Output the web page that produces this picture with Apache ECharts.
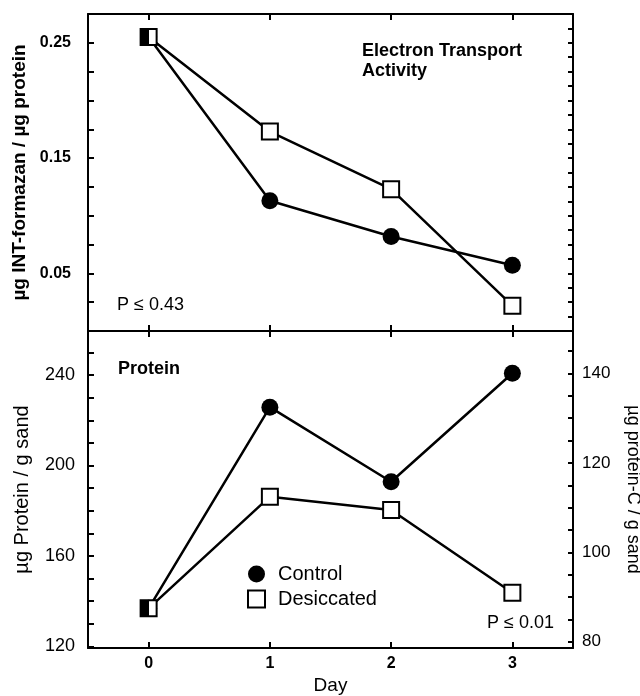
<!DOCTYPE html>
<html>
<head>
<meta charset="utf-8">
<script src="https://cdn.jsdelivr.net/npm/echarts@6/dist/echarts.min.js"></script>
<style>
  html, body { margin: 0; padding: 0; background: #fff; }
  #chart { width: 640px; height: 696px; }
</style>
</head>
<body>
<div id="chart"></div>
<script>
// values
var days = [0, 1, 2, 3];
var etsControl = [0.255, 0.113, 0.082, 0.057];
var etsDesiccated = [0.255, 0.173, 0.123, 0.022];
var proteinControl = [136.8, 225.8, 192.8, 240.8];
var proteinDesiccated = [136.8, 186.2, 180.3, 143.7];

// ticks and labels
var dayTicks = [0, 1, 2, 3];
var etsLabels = [0.05, 0.15, 0.25];
var proteinTicks = [120, 130, 140, 150, 160, 170, 180, 190, 200, 210, 220, 230, 240, 250];
var proteinLabels = [120, 160, 200, 240];
var carbonTicks = [80, 85, 90, 95, 100, 105, 110, 115, 120, 125, 130, 135, 140, 145];
var carbonLabels = [80, 100, 120, 140];

var FONT = 'Liberation Sans, Arial, sans-serif';
var black = '#000';

function pairs(vals) {
    return days.map(function (d, i) { return [d, vals[i]]; });
}

// desiccated day 0 point overlaps control: drawn half filled
function halfFilled(data) {
    data[0] = {
        value: data[0],
        itemStyle: {
            color: {
                type: 'linear', x: 0, y: 0, x2: 1, y2: 0,
                colorStops: [
                    { offset: 0, color: '#000' },
                    { offset: 0.5, color: '#000' },
                    { offset: 0.5, color: '#fff' },
                    { offset: 1, color: '#fff' }
                ]
            }
        }
    };
    return data;
}

var tick = { inside: true, length: 6, lineStyle: { color: black, width: 2 } };
var line = { show: true, onZero: false, lineStyle: { color: black, width: 2 } };

function xAxis(grid, pos, labels, name) {
    return {
        type: 'value', gridIndex: grid, position: pos, min: -0.5, max: 3.5,
        axisLine: line,
        axisTick: { inside: true, length: 6, lineStyle: { color: black, width: 2 }, customValues: dayTicks },
        axisLabel: labels ? { customValues: dayTicks, color: black, fontFamily: FONT, fontSize: 16, fontWeight: 'bold', margin: 8 } : { show: false },
        splitLine: { show: false },
        name: name || '',
        nameLocation: 'middle', nameGap: 28,
        nameTextStyle: { color: black, fontFamily: FONT, fontSize: 19 }
    };
}

var controlStyle = {
    symbol: 'circle', symbolSize: 17,
    itemStyle: { color: black },
    lineStyle: { color: black, width: 2.5 }
};
var desStyle = {
    symbol: 'rect', symbolSize: 16,
    itemStyle: { color: '#fff', borderColor: black, borderWidth: 2 },
    lineStyle: { color: black, width: 2.5 }
};

function series(name, grid, vals, style, z, half) {
    var data = pairs(vals);
    if (half) data = halfFilled(data);
    return Object.assign({
        name: name, type: 'line', xAxisIndex: grid * 2, yAxisIndex: grid * 2,
        data: data, z: z, animation: false
    }, style);
}

var option = {
    animation: false,
    grid: [
        { left: 88, top: 14, right: 67, height: 317, outerBoundsMode: 'none' },
        { left: 88, top: 331, right: 67, height: 317, outerBoundsMode: 'none' }
    ],
    xAxis: [
        xAxis(0, 'bottom', false),
        xAxis(0, 'top', false),
        xAxis(1, 'bottom', true, 'Day'),
        xAxis(1, 'top', false)
    ],
    yAxis: [
        {
            type: 'value', gridIndex: 0, position: 'left', min: 0, max: 0.275, interval: 0.025,
            axisLine: line, axisTick: tick, splitLine: { show: false },
            axisLabel: {
                customValues: etsLabels, color: black, fontFamily: FONT, fontSize: 16, fontWeight: 'bold', margin: 17,
                formatter: function (v) { return v.toFixed(2); }
            },
            name: 'µg INT-formazan / µg protein', nameLocation: 'middle', nameGap: 52,
            nameTextStyle: { color: black, fontFamily: FONT, fontSize: 19, fontWeight: 'bold' }
        },
        {
            type: 'value', gridIndex: 0, position: 'right', min: 0, max: 0.275, interval: 0.0125,
            axisLine: line, axisTick: { inside: true, length: 5, lineStyle: { color: black, width: 2 } },
            axisLabel: { show: false }, splitLine: { show: false }
        },
        {
            type: 'value', gridIndex: 1, position: 'left', min: 119.25, max: 259.5,
            axisLine: line,
            axisTick: { inside: true, length: 6, lineStyle: { color: black, width: 2 }, customValues: proteinTicks },
            splitLine: { show: false },
            axisLabel: { customValues: proteinLabels, color: black, fontFamily: FONT, fontSize: 18, margin: 13 },
            name: 'µg Protein / g sand', nameLocation: 'middle', nameGap: 56,
            nameTextStyle: { color: black, fontFamily: FONT, fontSize: 20 }
        },
        {
            type: 'value', gridIndex: 1, position: 'right', min: 78.6, max: 149.5,
            axisLine: line,
            axisTick: { inside: true, length: 5, lineStyle: { color: black, width: 2 }, customValues: carbonTicks },
            splitLine: { show: false },
            axisLabel: { customValues: carbonLabels, color: black, fontFamily: FONT, fontSize: 17, margin: 9 },
            name: 'µg protein-C / g sand', nameLocation: 'middle', nameGap: 51, nameRotate: -90,
            nameTextStyle: { color: black, fontFamily: FONT, fontSize: 18 }
        }
    ],
    legend: {
        orient: 'vertical', left: 242, top: 559,
        itemWidth: 17, itemHeight: 17, itemGap: 5,
        textStyle: { color: black, fontFamily: FONT, fontSize: 20, lineHeight: 20, padding: [0, 0, 0, 8] },
        data: [{ name: 'Control', icon: 'circle' }, { name: 'Desiccated', icon: 'rect' }]
    },
    graphic: [
        { type: 'text', left: 362, top: 41, style: { text: 'Electron Transport\nActivity', fill: black, fontFamily: FONT, fontSize: 18, fontWeight: 'bold', lineHeight: 20 } },
        { type: 'text', left: 118, top: 360, style: { text: 'Protein', fill: black, fontFamily: FONT, fontSize: 18, fontWeight: 'bold' } },
        { type: 'text', left: 117, top: 296, style: { text: 'P ≤ 0.43', fill: black, fontFamily: FONT, fontSize: 18 } },
        { type: 'text', left: 487, top: 614, style: { text: 'P ≤ 0.01', fill: black, fontFamily: FONT, fontSize: 18 } }
    ],
    series: [
        series('Control', 0, etsControl, controlStyle, 2, false),
        series('Desiccated', 0, etsDesiccated, desStyle, 3, true),
        series('Control', 1, proteinControl, controlStyle, 2, false),
        series('Desiccated', 1, proteinDesiccated, desStyle, 3, true)
    ]
};

var chart = echarts.init(document.getElementById('chart'));
chart.setOption(option);
</script>
</body>
</html>
